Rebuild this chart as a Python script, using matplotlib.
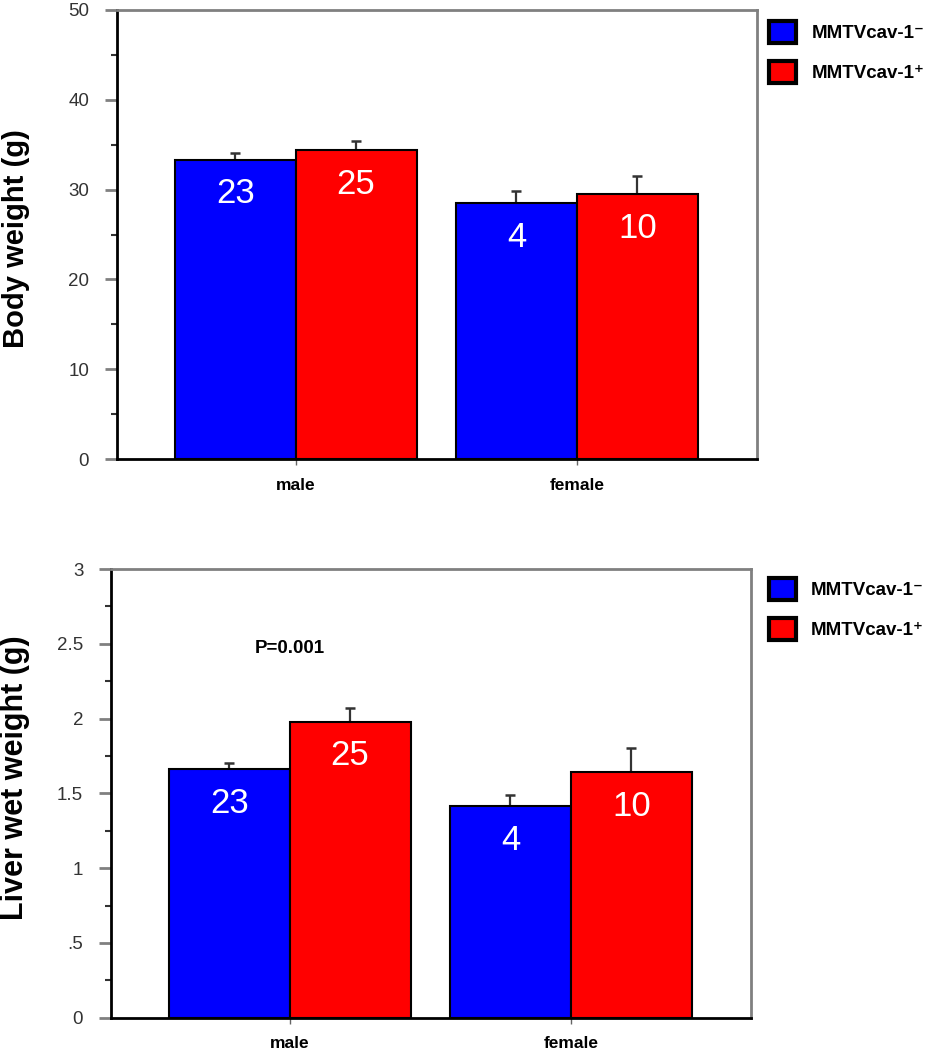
import numpy as np
import matplotlib
matplotlib.use("Agg")
import matplotlib.pyplot as plt
from matplotlib.patches import Patch
from matplotlib.ticker import MultipleLocator, FixedFormatter, FixedLocator

plt.rcParams['font.family'] = ['Liberation Sans', 'DejaVu Sans']

groups = ["male", "female"]
series = ["MMTVcav-1\u207b", "MMTVcav-1\u207a"]
colors = ["#0000ff", "#ff0000"]

# body weight (g): mean and upper error, per series
body_mean = [[33.3, 28.5], [34.4, 29.5]]
body_err = [[0.8, 1.3], [1.0, 2.0]]
body_n = [[23, 4], [25, 10]]

# liver wet weight (g)
liver_mean = [[1.66, 1.415], [1.98, 1.64]]
liver_err = [[0.04, 0.075], [0.09, 0.16]]
liver_n = [[23, 4], [25, 10]]

liver_ticks = [0, 0.5, 1, 1.5, 2, 2.5, 3]
liver_ticklabels = ["0", ".5", "1", "1.5", "2", "2.5", "3"]

W = 0.43


def draw_panel(ax, means, errs, ns, ylabel, ylab_x, ylab_y, ylab_size):
    x = np.arange(len(groups))
    for i in range(len(series)):
        xs = x + (i - 0.5) * W
        ax.bar(xs, means[i], W, color=colors[i], edgecolor="black", linewidth=1.5, zorder=2)
        ax.errorbar(xs, means[i], yerr=[np.zeros(len(xs)), errs[i]], fmt="none",
                    ecolor="#333333", elinewidth=1.6, capsize=3.5, capthick=1.8, zorder=1)
        for xx, m, n in zip(xs, means[i], ns[i]):
            ax.annotate(str(n), xy=(xx, m), xytext=(0, -24.5), textcoords="offset points",
                        ha="center", va="center", color="white", fontsize=25, zorder=3)
    ax.set_xlim(-0.635, 1.64)
    ax.set_xticks(x)
    ax.set_xticklabels(groups, fontsize=12.5, fontweight="bold")
    ax.tick_params(axis="x", direction="out", length=4, width=1, color="#666666", pad=9.5)
    ax.tick_params(axis="y", which="major", direction="out", length=9, width=2,
                   color="#808080", labelsize=13.5, labelcolor="#333333", pad=11)
    ax.tick_params(axis="y", which="minor", direction="out", length=4, width=1.5, color="#333333")
    for s in ["left", "bottom"]:
        ax.spines[s].set_linewidth(2)
        ax.spines[s].set_color("black")
    for s in ["top", "right"]:
        ax.spines[s].set_linewidth(2)
        ax.spines[s].set_color("#808080")
    ax.set_ylabel(ylabel, fontsize=ylab_size, fontweight="bold")
    ax.yaxis.set_label_coords(ylab_x, ylab_y)


fig = plt.figure(figsize=(9.32, 10.5), dpi=100)
ax1 = fig.add_axes([117 / 932, 1 - 459 / 1050, 640 / 932, 449 / 1050])
ax2 = fig.add_axes([111 / 932, 1 - 1017.7 / 1050, 640 / 932, 448.7 / 1050])

draw_panel(ax1, body_mean, body_err, body_n, "Body weight (g)", -0.136, 0.492, 21)
ax1.set_ylim(0, 50)
ax1.yaxis.set_major_locator(MultipleLocator(10))
ax1.yaxis.set_minor_locator(MultipleLocator(5))

draw_panel(ax2, liver_mean, liver_err, liver_n, "Liver wet weight (g)", -0.126, 0.535, 22)
ax2.set_ylim(0, 3)
ax2.yaxis.set_major_locator(FixedLocator(liver_ticks))
ax2.yaxis.set_major_formatter(FixedFormatter(liver_ticklabels))
ax2.yaxis.set_minor_locator(MultipleLocator(0.25))
ax2.tick_params(axis="x", pad=9)
ax2.text(0, 2.47, "P=0.001", ha="center", va="center", fontsize=13.5, fontweight="bold")

handles = [Patch(facecolor=c, edgecolor="black", linewidth=3, label=s) for c, s in zip(colors, series)]
prop = {"family": ["Liberation Sans", "DejaVu Sans"], "weight": "bold", "size": 13.5}
for ax, anchor in [(ax1, (1.019, 0.976)), (ax2, (1.028, 0.98))]:
    ax.legend(handles=handles, loc="upper left", bbox_to_anchor=anchor, frameon=False,
              prop=prop, handlelength=1.45, handleheight=1.45, handletextpad=0.8,
              labelspacing=0.95, borderpad=0, borderaxespad=0)

fig.savefig("out.png", dpi=100)
